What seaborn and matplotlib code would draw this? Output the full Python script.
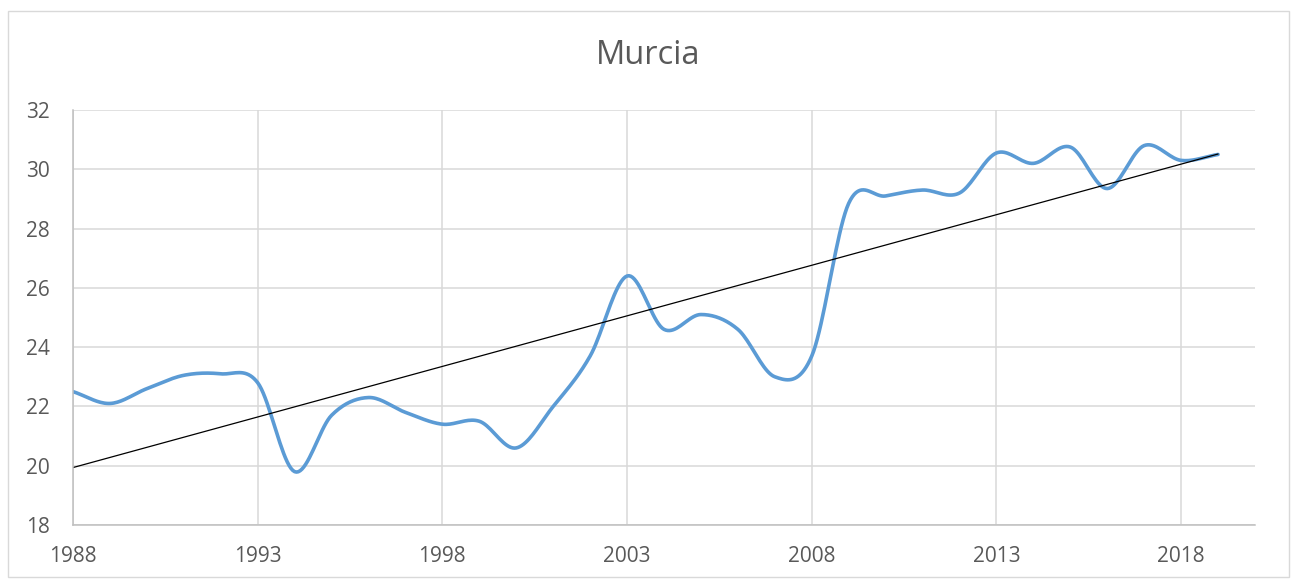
import numpy as np
import pandas as pd
import matplotlib
matplotlib.use("Agg")
import matplotlib.pyplot as plt
import seaborn as sns

# --- data ---
years = list(range(1988, 2020))
values = [22.5, 22.1, 22.6, 23.05, 23.1, 22.8, 19.8, 21.7, 22.3, 21.8,
          21.4, 21.5, 20.6, 22.0, 23.7, 26.4, 24.6, 25.1, 24.6, 23.0,
          23.7, 28.85, 29.1, 29.3, 29.2, 30.55, 30.2, 30.75, 29.35, 30.8,
          30.3, 30.5]
x_ticks = [1988, 1993, 1998, 2003, 2008, 2013, 2018]
y_ticks = [18, 20, 22, 24, 26, 28, 30, 32]
title = "Murcia"

BLUE = "#5b9bd5"
GREY_TXT = "#595959"
GRID = "#d9d9d9"


def smooth(x, y, n=20):
    # Catmull-Rom style curve through the points (like Excel's smoothed line)
    x = np.asarray(x, float)
    y = np.asarray(y, float)
    px = np.concatenate([[2 * x[0] - x[1]], x, [2 * x[-1] - x[-2]]])
    py = np.concatenate([[2 * y[0] - y[1]], y, [2 * y[-1] - y[-2]]])
    t = np.linspace(0, 1, n, endpoint=False)
    xs, ys = [], []
    for i in range(1, len(px) - 2):
        for p, out in ((px, xs), (py, ys)):
            p0, p1, p2, p3 = p[i - 1], p[i], p[i + 1], p[i + 2]
            out.extend(0.5 * ((2 * p1) + (-p0 + p2) * t
                              + (2 * p0 - 5 * p1 + 4 * p2 - p3) * t ** 2
                              + (-p0 + 3 * p1 - 3 * p2 + p3) * t ** 3))
    xs.append(x[-1])
    ys.append(y[-1])
    return np.array(xs), np.array(ys)


sx, sy = smooth(years, values)
curve = pd.DataFrame({"year": sx, "value": sy})

# linear trend
slope, icpt = np.polyfit(years, values, 1)
trend = pd.DataFrame({"year": [years[0], years[-1]],
                      "value": [icpt + slope * years[0], icpt + slope * years[-1]]})

sns.set_style("white")
plt.rcParams["font.family"] = ["Open Sans", "DejaVu Sans"]

fig = plt.figure(figsize=(12.97, 5.8), dpi=100)
ax = fig.add_axes([73 / 1297, 1 - 525 / 580, (1255 - 73) / 1297, (525 - 110) / 580])

sns.lineplot(data=curve, x="year", y="value", ax=ax, color=BLUE,
             linewidth=2.6, sort=False, estimator=None)
sns.lineplot(data=trend, x="year", y="value", ax=ax, color="black",
             linewidth=0.9)

ax.set_xlim(1988, 2020)
ax.set_ylim(18, 32)
ax.set_xticks(x_ticks)
ax.set_yticks(y_ticks)
ax.grid(True, color=GRID, linewidth=1.1)
ax.set_axisbelow(True)
ax.tick_params(axis="x", length=0, labelsize=15, colors=GREY_TXT, pad=15)
ax.tick_params(axis="y", length=0, labelsize=15, colors=GREY_TXT, pad=16.5)
ax.set_xlabel("")
ax.set_ylabel("")
for side in ["top", "right"]:
    ax.spines[side].set_visible(False)
for side in ["left", "bottom"]:
    ax.spines[side].set_color("#bfbfbf")
    ax.spines[side].set_linewidth(1.1)

fig.text(0.5, 1 - 56 / 580, title, ha="center", va="center",
         fontsize=23.5, color=GREY_TXT)

# chart border
fig.patches.append(plt.Rectangle((8 / 1297, 0.005), 1 - 16 / 1297, 1 - 14 / 580,
                                 transform=fig.transFigure, fill=False,
                                 edgecolor="#d9d9d9", linewidth=1))

fig.savefig("out.png", dpi=100)
